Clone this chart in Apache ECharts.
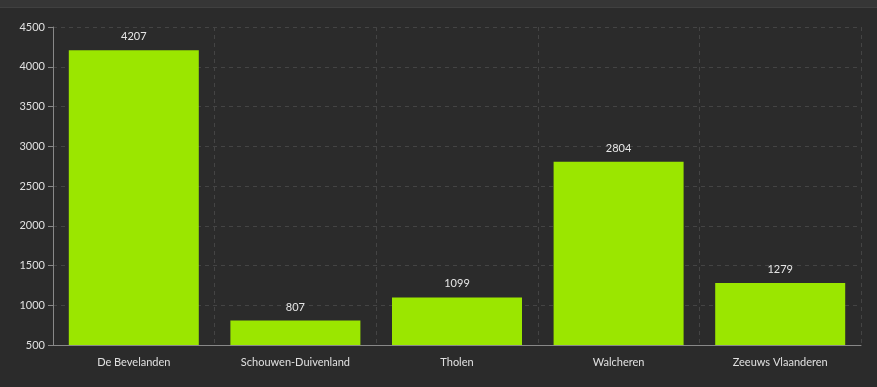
<!DOCTYPE html>
<html>
<head>
<meta charset="utf-8">
<script src="https://cdn.jsdelivr.net/npm/echarts@6/dist/echarts.min.js"></script>
<style>
html,body{margin:0;padding:0;background:#2b2b2b;}
#top{position:absolute;left:0;top:0;width:877px;height:7px;background:#363636;border-bottom:1px solid #404040;}
#chart{position:absolute;left:0;top:0;width:877px;height:387px;}
</style>
</head>
<body>
<div id="top"></div>
<div id="chart"></div>
<script>
var categories = ['De Bevelanden', 'Schouwen-Duivenland', 'Tholen', 'Walcheren', 'Zeeuws Vlaanderen'];
var values = [4207, 807, 1099, 2804, 1279];

var chart = echarts.init(document.getElementById('chart'));
chart.setOption({
  backgroundColor: 'transparent',
  animation: false,
  grid: { left: 53, right: 16, top: 27, bottom: 42 },
  xAxis: {
    type: 'category',
    data: categories,
    axisLine: { lineStyle: { color: '#888' } },
    axisTick: { alignWithLabel: true, length: 5, lineStyle: { color: '#888' } },
    axisLabel: { color: '#e0e0e0', fontSize: 11, fontFamily: 'Lato, sans-serif', margin: 12 },
    splitLine: { show: true, lineStyle: { color: '#444', type: [4, 4] } }
  },
  yAxis: {
    type: 'value',
    min: 500, max: 4500, interval: 500,
    axisLine: { show: true, lineStyle: { color: '#888' } },
    axisTick: { show: true, length: 5, lineStyle: { color: '#888' } },
    axisLabel: { color: '#e0e0e0', fontSize: 11, fontFamily: 'Lato, sans-serif', margin: 8, formatter: function (v) { return String(v); } },
    splitLine: { show: true, lineStyle: { color: '#444', type: [4, 4] } }
  },
  series: [{
    type: 'bar',
    data: values,
    barWidth: 130,
    itemStyle: { color: '#9be600' },
    label: { show: true, position: 'top', distance: 8, color: '#e6e6e6', fontSize: 11, fontFamily: 'Lato, sans-serif' }
  }]
});
</script>
</body>
</html>
